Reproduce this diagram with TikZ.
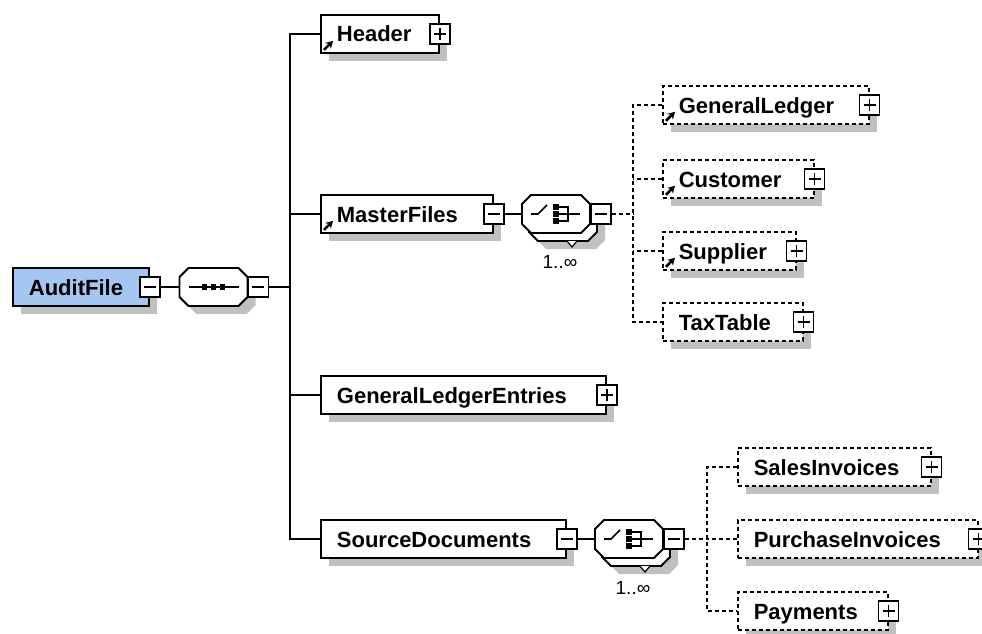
\documentclass[tikz,border=0pt]{standalone}
\usepackage{fontspec}
\setmainfont{Liberation Sans}
\usetikzlibrary{shadows,arrows.meta}
\definecolor{shade}{RGB}{192,192,192}
\definecolor{afblue}{RGB}{164,198,240}
\newcommand\octag[2][]{\path[#1] ([xshift=9pt]#2.north west) -- ([xshift=-9pt]#2.north east)
  -- ([yshift=-9pt]#2.north east) -- ([yshift=9pt]#2.south east) -- ([xshift=-9pt]#2.south east)
  -- ([xshift=9pt]#2.south west) -- ([yshift=9pt]#2.south west) -- ([yshift=-9pt]#2.north west) -- cycle;}
\begin{document}
\begin{tikzpicture}[x=1pt,y=-1pt,
  shad/.style={drop shadow={shadow xshift=8pt, shadow yshift=-8pt, fill=shade, opacity=1}},
  elem/.style={draw, line width=1.8pt, fill=white, rectangle, anchor=west,
    inner xsep=16pt, inner ysep=0pt, minimum height=38pt, text height=16pt, text depth=0pt,
    align=left, font=\bfseries\fontsize{22}{26}\selectfont, shad},
  opt/.style={elem, dash pattern=on 4pt off 3pt, line width=1.6pt},
  pm/.style={draw, line width=1.6pt, fill=white, minimum size=20pt, inner sep=0pt, solid},
  minus/.style={pm, path picture={\draw[line width=1.4pt]
      ([xshift=4pt]path picture bounding box.west) -- ([xshift=-4pt]path picture bounding box.east);}},
  plus/.style={pm, path picture={\draw[line width=1.4pt]
      ([xshift=4pt]path picture bounding box.west) -- ([xshift=-4pt]path picture bounding box.east)
      ([yshift=-4pt]path picture bounding box.north) -- ([yshift=4pt]path picture bounding box.south);}},
  octbox/.style={rectangle, minimum width=68pt, minimum height=38pt, inner sep=0pt, outer sep=0pt},
  octline/.style={draw, line width=1.8pt, fill=white},
  octshad/.style={fill=shade, transform canvas={shift={(8pt,-8pt)}}},
  refarrow/.style={line width=2.6pt, solid, -{Stealth[length=7pt,width=8pt]}},
  conn/.style={line width=1.8pt},
  dconn/.style={line width=1.6pt, dash pattern=on 4pt off 3pt},
  occ/.style={font=\fontsize{19}{22}\selectfont, inner sep=0pt},
  sym/.style={line width=1.6pt}
]
\fill[white] (0,0) rectangle (982,634);
\useasboundingbox (0,0) rectangle (982,634);

% root
\node[elem, fill=afblue, text width=104pt] (af) at (12,287) {AuditFile};
\node[minus] (afm) at (af.east) {};
\node[octbox] (seq) at (213.5,287) {};
\octag[octshad]{seq}
\octag[octline]{seq}
\node[minus, anchor=west] (seqm) at (seq.east) {};
\draw[sym] ([xshift=-25pt]seq.center) -- ([xshift=25pt]seq.center);
\foreach \d in {-9,0,9} \fill ([xshift=\d pt]seq.center) +(-2.8,-2.8) rectangle +(2.8,2.8);

% level 1
\node[elem, text width=86pt] (hd) at (320,34) {Header};
\node[plus] (hdp) at (hd.east) {};
\draw[refarrow] ([shift={(4,-4)}]hd.south west) -- ++(9,-9);

\node[elem, text width=140pt] (mf) at (320,214) {MasterFiles};
\node[minus] (mfm) at (mf.east) {};
\draw[refarrow] ([shift={(4,-4)}]mf.south west) -- ++(9,-9);

\node[elem, text width=253pt] (gle) at (320,395) {GeneralLedgerEntries};
\node[plus] (glep) at (gle.east) {};

\node[elem, text width=213pt] (sd) at (320,539) {SourceDocuments};
\node[minus] (sdm) at (sd.east) {};

% choice 1
\node[octbox] (ch1b) at (563,222) {};
\octag[octshad]{ch1b}
\octag[octline]{ch1b}
\draw[line width=1.2pt, fill=white] ([xshift=4pt]ch1b.south) -- ++(5,6) -- ++(5,-6);
\node[octbox] (ch1) at (556,214) {};
\octag[octline]{ch1}
\node[minus, anchor=west] (ch1m) at (ch1.east) {};
\draw[sym] ([shift={(-25,0)}]ch1.center) -- ++(7,0) -- ++(9,-9);
\foreach \d in {-7,0,7} \fill ([shift={(0,\d)}]ch1.center) +(-3,-2.8) rectangle +(3,2.8);
\draw[sym] ([shift={(2,-7)}]ch1.center) -- ++(10,0) -- ++(0,14) -- ++(-10,0);
\draw[sym] ([shift={(2,0)}]ch1.center) -- ++(22,0);
\node[occ] (occ1) at (560,262) {1..∞};

% choice 2
\node[octbox] (ch2b) at (636,547) {};
\octag[octshad]{ch2b}
\octag[octline]{ch2b}
\draw[line width=1.2pt, fill=white] ([xshift=4pt]ch2b.south) -- ++(5,6) -- ++(5,-6);
\node[octbox] (ch2) at (629,539) {};
\octag[octline]{ch2}
\node[minus, anchor=west] (ch2m) at (ch2.east) {};
\draw[sym] ([shift={(-25,0)}]ch2.center) -- ++(7,0) -- ++(9,-9);
\foreach \d in {-7,0,7} \fill ([shift={(0,\d)}]ch2.center) +(-3,-2.8) rectangle +(3,2.8);
\draw[sym] ([shift={(2,-7)}]ch2.center) -- ++(10,0) -- ++(0,14) -- ++(-10,0);
\draw[sym] ([shift={(2,0)}]ch2.center) -- ++(22,0);
\node[occ] (occ2) at (633,588) {1..∞};

% MasterFiles children
\node[opt, text width=174pt] (gl) at (662,105) {GeneralLedger};
\node[plus] (glp) at (gl.east) {};
\draw[refarrow] ([shift={(4,-4)}]gl.south west) -- ++(9,-9);
\node[opt, text width=119pt] (cu) at (662,179) {Customer};
\node[plus] (cup) at (cu.east) {};
\draw[refarrow] ([shift={(4,-4)}]cu.south west) -- ++(9,-9);
\node[opt, text width=101pt] (su) at (662,251) {Supplier};
\node[plus] (sup) at (su.east) {};
\draw[refarrow] ([shift={(4,-4)}]su.south west) -- ++(9,-9);
\node[opt, text width=108pt] (tt) at (662,322) {TaxTable};
\node[plus] (ttp) at (tt.east) {};

% SourceDocuments children
\node[opt, text width=161pt] (si) at (737,467) {SalesInvoices};
\node[plus] (sip) at (si.east) {};
\node[opt, text width=208pt] (pi) at (737,539) {PurchaseInvoices};
\node[plus] (pip) at (pi.east) {};
\node[opt, text width=118pt] (pay) at (737,611) {Payments};
\node[plus] (payp) at (pay.east) {};

% connectors
\coordinate (trk) at (290,287);
\draw[conn] (afm.east) -- (seq.west);
\draw[conn] (seqm.east) -- (trk);
\draw[conn] (hd.west) -- (hd.west -| trk) -- (sd.west -| trk) -- (sd.west);
\draw[conn] (mf.west) -- (mf.west -| trk);
\draw[conn] (gle.west) -- (gle.west -| trk);
\draw[conn] (mfm.east) -- (ch1.west);
\draw[conn] (sdm.east) -- (ch2.west);

\coordinate (dt1) at (633,214);
\draw[dconn] (ch1m.east) -- (dt1);
\draw[dconn] (gl.west) -- (gl.west -| dt1) -- (tt.west -| dt1) -- (tt.west);
\draw[dconn] (cu.west) -- (cu.west -| dt1);
\draw[dconn] (su.west) -- (su.west -| dt1);

\coordinate (dt2) at (707,539);
\draw[dconn] (ch2m.east) -- (dt2);
\draw[dconn] (si.west) -- (si.west -| dt2) -- (pay.west -| dt2) -- (pay.west);
\draw[dconn] (pi.west) -- (pi.west -| dt2);
\end{tikzpicture}
\end{document}
